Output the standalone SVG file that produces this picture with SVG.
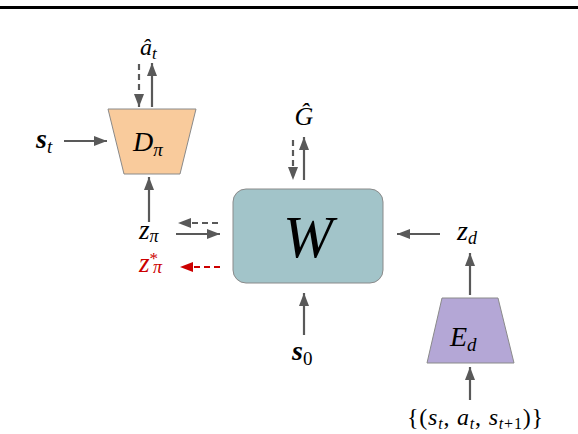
<svg xmlns="http://www.w3.org/2000/svg" width="578" height="434" viewBox="0 0 578 434">
<defs>
<marker id="ah" markerUnits="userSpaceOnUse" markerWidth="14" markerHeight="11" refX="13" refY="5" orient="auto">
<path d="M0,0 L13,5 L0,10 z" fill="#595959"/>
</marker>
<marker id="ahr" markerUnits="userSpaceOnUse" markerWidth="14" markerHeight="11" refX="13" refY="5" orient="auto">
<path d="M0,0 L13,5 L0,10 z" fill="#cc0000"/>
</marker>
<style>
.a{stroke:#595959;stroke-width:2.2;fill:none;marker-end:url(#ah)}
.d{stroke-dasharray:6,4}
.r{stroke:#cc0000;stroke-width:2.2;fill:none;stroke-dasharray:6,4;marker-end:url(#ahr)}
.t{font-family:"Liberation Serif","Times New Roman",serif;font-style:italic;fill:#000}
.b{font-weight:bold}
.u{font-style:normal}
.n{stroke:#8a8a8a;stroke-width:1}
</style>
</defs>
<rect x="0" y="6" width="578" height="3" fill="#000"/>

<g id="D_pi">
<polygon class="n" points="108,109 196,109 180,174 124,174" fill="#f9cb9c"/>
<text class="t" x="133" y="151" font-size="28">D<tspan font-size="19" dy="5">π</tspan></text>
</g>

<g id="W">
<rect class="n" x="233" y="189" width="150" height="94" rx="13" fill="#a2c4c9"/>
<text class="t" x="308" y="257" font-size="60" text-anchor="middle">W</text>
</g>

<g id="E_d">
<polygon class="n" points="442,298 498,298 514,363 427,363" fill="#b4a7d6"/>
<text class="t" x="450" y="346" font-size="28">E<tspan font-size="19" dy="5">d</tspan></text>
</g>

<g id="labels">
<text class="t" x="36" y="148" font-size="28"><tspan class="b">s</tspan><tspan font-size="19" dy="5">t</tspan></text>
<text class="t" x="140" y="55" font-size="24">â<tspan font-size="17" dy="4">t</tspan></text>
<text class="t" x="304" y="125" font-size="26" text-anchor="middle">Ĝ</text>
<text class="t" x="139" y="239" font-size="27">z<tspan font-size="18" dy="3">π</tspan></text>
<text class="t" x="139" y="272" font-size="27" style="fill:#cc0000"><tspan>z</tspan><tspan class="u" font-size="17" dy="-8">*</tspan><tspan font-size="18" x="153" dy="9">π</tspan></text>
<text class="t" x="457" y="240" font-size="28">z<tspan font-size="18" dy="4">d</tspan></text>
<text class="t" x="292" y="360" font-size="28"><tspan class="b">s</tspan><tspan class="u" font-size="19" dy="5">0</tspan></text>
<text class="t" x="407" y="425" font-size="24" textLength="136" lengthAdjust="spacing"><tspan class="u">{(</tspan>s<tspan font-size="16" dy="4">t</tspan><tspan class="u" dy="-4">, </tspan>a<tspan font-size="16" dy="4">t</tspan><tspan class="u" dy="-4">, </tspan>s<tspan font-size="16" dy="4">t<tspan class="u">+1</tspan></tspan><tspan class="u" dy="-4">)}</tspan></text>
</g>

<g id="connectors">
<line class="a d" x1="139" y1="64" x2="139" y2="107"/>
<line class="a" x1="152" y1="107" x2="152" y2="63"/>
<line class="a" x1="64" y1="141" x2="107" y2="141"/>
<line class="a" x1="149" y1="222" x2="149" y2="177"/>
<line class="a d" x1="218" y1="223" x2="178" y2="223"/>
<line class="a" x1="176" y1="234" x2="220" y2="234"/>
<line class="r" x1="220" y1="267" x2="180" y2="267"/>
<line class="a d" x1="293" y1="140" x2="293" y2="180"/>
<line class="a" x1="304" y1="180" x2="304" y2="137"/>
<line class="a" x1="440" y1="234" x2="397" y2="234"/>
<line class="a" x1="470" y1="295" x2="470" y2="253"/>
<line class="a" x1="470" y1="400" x2="470" y2="367"/>
<line class="a" x1="304" y1="335" x2="304" y2="293"/>
</g>
</svg>
